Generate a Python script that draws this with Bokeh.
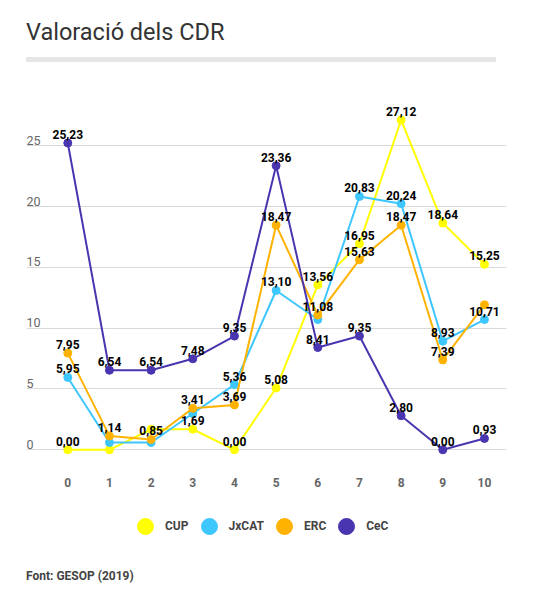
from bokeh.plotting import figure
from bokeh.models import Div, Legend, LegendItem, Grid, FixedTicker, ColumnDataSource, Range1d
from bokeh.layouts import column
from bokeh.embed import file_html
from bokeh.resources import INLINE
from bokeh.core.properties import value

# ---------------- data ----------------
title_text = "Valoració dels CDR"
source_text = "Font: GESOP (2019)"
categories = list(range(11))
x_tick_labels = [str(c) for c in categories]
y_ticks = [0, 5, 10, 15, 20, 25]
y_tick_labels = ["0", "5", "10", "15", "20", "25"]
series_names = ["CUP", "JxCAT", "ERC", "CeC"]
cup = [0.00, 0.00, 1.69, 1.69, 0.00, 5.08, 13.56, 16.95, 27.12, 18.64, 15.25]
jxcat = [5.95, 0.60, 0.60, 2.98, 5.36, 13.10, 10.71, 20.83, 20.24, 8.93, 10.71]
erc = [7.95, 1.14, 0.85, 3.41, 3.69, 18.47, 11.08, 15.63, 18.47, 7.39, 11.92]
cec = [25.23, 6.54, 6.54, 7.48, 9.35, 23.36, 8.41, 9.35, 2.80, 0.00, 0.93]
# data labels visible in the original (others hidden by overlap)
cup_shown = [1, 0, 0, 1, 1, 1, 1, 1, 1, 1, 1]
jxcat_shown = [1, 0, 0, 0, 1, 1, 0, 1, 1, 1, 1]
erc_shown = [1, 1, 1, 1, 1, 1, 1, 1, 1, 1, 0]
cec_shown = [1, 1, 1, 1, 1, 1, 1, 1, 1, 1, 1]
colors = ["#ffff00", "#3ec6ff", "#ffb300", "#4a35b0"]

series_values = [cup, jxcat, erc, cec]
series_shown = [cup_shown, jxcat_shown, erc_shown, cec_shown]

FONT = "Roboto"

# ---------------- header ----------------
header = Div(
    text=(
        '<div style="position:relative;width:531px;height:62px;">'
        f'<div style="position:absolute;left:21px;top:15px;font-family:{FONT};font-size:23.5px;'
        f'line-height:24px;color:#333333;white-space:nowrap;">{title_text}</div>'
        '<div style="position:absolute;left:21px;top:52px;width:470px;height:5px;background:#e6e6e6;"></div>'
        '</div>'
    ),
    width=531, height=62,
)

# ---------------- figure ----------------
# frame spans 461 px; scale 12.16 px per unit
p = figure(
    width=531, height=490, output_backend="svg", toolbar_location=None,
    x_range=Range1d(-0.991, 10.529), y_range=Range1d(-8.94, 28.97),
    x_axis_location=None, y_axis_location=None,
    min_border_left=26, min_border_right=25, min_border_top=25, min_border_bottom=4,
    outline_line_color=None,
)
for g in p.grid:
    g.visible = False
p.add_layout(Grid(dimension=1, ticker=FixedTicker(ticks=y_ticks), grid_line_color="#d9d9d9", grid_line_width=1))

# x tick labels under the value axis
p.text(x=categories, y=[0] * len(categories), text=x_tick_labels,
       text_font=value(FONT), text_font_size="12px", text_font_style="bold",
       text_color="#666666", text_align="center", text_baseline="middle", y_offset=33)

# y tick labels sitting on top of the grid lines (left-aligned inside plot)
p.text(x=[p.x_range.start] * len(y_ticks), y=y_ticks, text=y_tick_labels,
       text_font=value(FONT), text_font_size="12.5px", text_color="#666666",
       text_align="left", text_baseline="bottom", y_offset=-1)

legend_items = []
for name, vals, col in zip(series_names, series_values, colors):
    src = ColumnDataSource(dict(x=categories, y=vals))
    p.line("x", "y", source=src, line_color=col, line_width=2)
    sc = p.scatter("x", "y", source=src, size=8, fill_color=col, line_color=col)
    legend_items.append(LegendItem(label=name, renderers=[sc]))

# data labels
for vals, shown in zip(series_values, series_shown):
    xs = [c for c, s in zip(categories, shown) if s]
    ys = [v for v, s in zip(vals, shown) if s]
    txt = [f"{v:.2f}".replace(".", ",") for v, s in zip(vals, shown) if s]
    p.text(x=xs, y=ys, text=txt, text_font=value(FONT), text_font_size="12px",
           text_font_style="bold", text_color="#000000", text_align="center",
           text_baseline="bottom", y_offset=-4)

legend = Legend(
    items=legend_items, orientation="horizontal", location=(99, 12),
    glyph_width=40, glyph_height=40, label_standoff=-6, spacing=-10,
    padding=0, margin=0, border_line_color=None, background_fill_alpha=0,
    label_text_font=FONT, label_text_font_size="12px", label_text_font_style="bold",
    label_text_color="#444444",
)
p.add_layout(legend, "center")

footer = Div(
    text=(f'<div style="font-family:{FONT};font-size:12px;font-weight:bold;color:#444444;'
          f'padding-left:21px;padding-top:1px;white-space:nowrap;">{source_text}</div>'),
    width=531, height=30,
)

layout = column(header, p, footer)
open("out.html", "w").write(file_html(layout, INLINE))
